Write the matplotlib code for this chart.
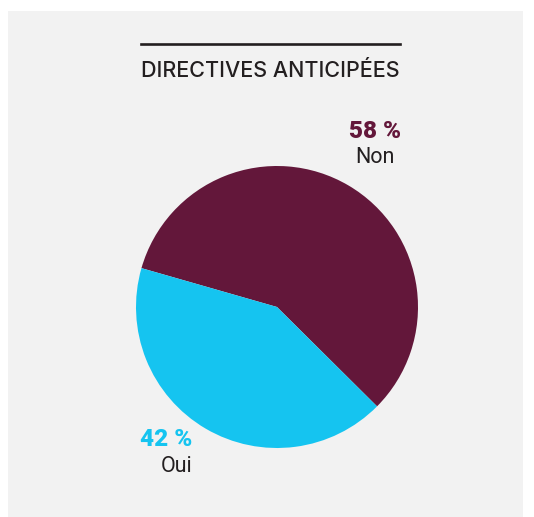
import matplotlib.pyplot as plt
from matplotlib.patches import Rectangle
from matplotlib.lines import Line2D

# Data
labels = ["Non", "Oui"]
values = [58, 42]
colors = ["#63173A", "#15C4F0"]

W, H = 534, 517
fig = plt.figure(figsize=(W / 100, H / 100), dpi=100, facecolor="white")

# gray panel
fig.patches.append(Rectangle((8 / W, 0), (523 - 8) / W, (517 - 11) / H,
                             transform=fig.transFigure, facecolor="#F2F2F2",
                             edgecolor="none", zorder=-5))

# title with rule above
fig.add_artist(Line2D([141 / W, 400 / W], [1 - 43.5 / H, 1 - 43.5 / H],
                      transform=fig.transFigure, color="#231F20", lw=1.9))
fig.text(270.5 / W, 1 - 71 / H, "DIRECTIVES ANTICIPÉES", ha="center", va="center",
         fontsize=15.5, family="Inter", fontweight="medium", color="#231F20")

# pie
cx, cy, r = 277, 307, 141
ax = fig.add_axes([(cx - r) / W, 1 - (cy + r) / H, 2 * r / W, 2 * r / H])
ax.set_zorder(2)
ax.patch.set_visible(False)
ax.pie(values, colors=colors, startangle=-44.8, counterclock=True, radius=1,
       wedgeprops=dict(linewidth=0))
ax.set_xlim(-1, 1)
ax.set_ylim(-1, 1)
ax.set_aspect("equal")
ax.axis("off")

# labels
label_pos = [(375, 131, 158, "center"), (192, 440, 466, "right")]
for lab, v, col, (x, yp, yl, ha) in zip(labels, values, colors, label_pos):
    fig.text(x / W, 1 - yp / H, f"{v} %", ha=ha, va="center", fontsize=17.5,
             fontweight="heavy", family="Roboto", color=col)
    fig.text(x / W, 1 - yl / H, lab, ha=ha, va="center", fontsize=15.5,
             family="Roboto", color="#231F20")

fig.savefig("out.png", dpi=100, facecolor=fig.get_facecolor())
